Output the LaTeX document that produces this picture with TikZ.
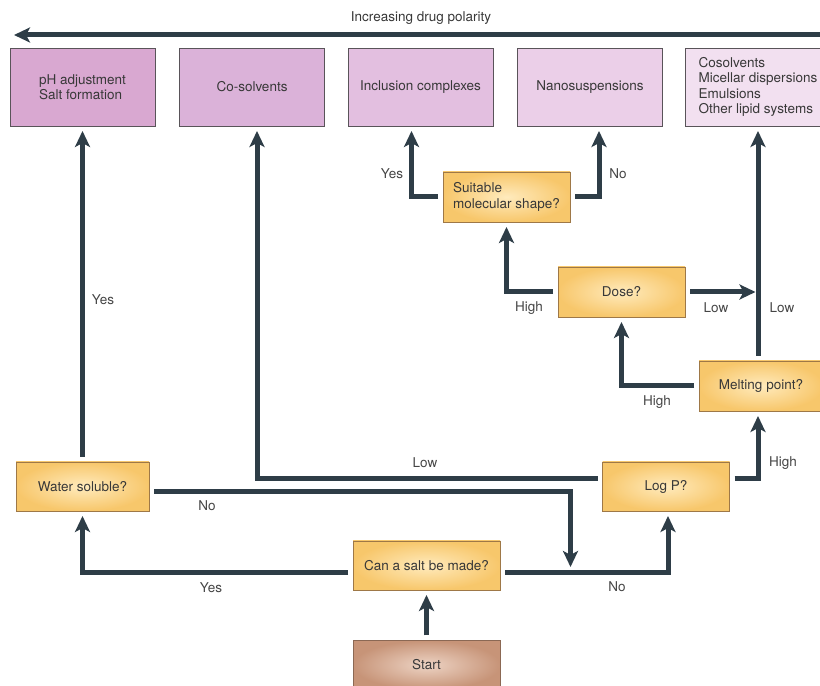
\documentclass[tikz,border=0pt]{standalone}
\usepackage{fontspec}
\setmainfont{TeX Gyre Heros}
\usetikzlibrary{arrows.meta}

\begin{document}
\begin{tikzpicture}[x=1pt,y=1pt,
  every node/.style={font=\fontsize{13.5}{15.5}\selectfont,text=textColor},
  route/.style={draw=lineColor,line width=5pt,
    -{Stealth[length=16pt,width=15pt,inset=4pt]}},
  plain/.style={draw=lineColor,line width=5pt},
  choice/.style={draw=choiceEdge,line width=0.8pt,shading=radial,
    inner color=choiceInner,outer color=choiceOuter,
    minimum width=127pt,minimum height=50pt,outer sep=5pt,align=left,inner sep=2pt},
  method/.style={draw=methodEdge,line width=0.8pt,
    minimum width=145pt,minimum height=78pt,outer sep=5pt,align=left,inner sep=2pt},
  answer/.style={text=labelColor,inner sep=0pt}]
\definecolor[named]{textColor}{rgb}{0.22,0.22,0.22}
\definecolor[named]{labelColor}{rgb}{0.27,0.27,0.27}
\definecolor[named]{lineColor}{rgb}{0.18,0.24,0.28}
\definecolor[named]{choiceEdge}{rgb}{0.62,0.47,0.28}
\definecolor[named]{choiceInner}{rgb}{1.00,0.92,0.74}
\definecolor[named]{choiceOuter}{rgb}{0.97,0.78,0.42}
\definecolor[named]{methodEdge}{rgb}{0.35,0.33,0.35}
\definecolor[named]{startInner}{rgb}{0.93,0.83,0.77}
\definecolor[named]{startOuter}{rgb}{0.78,0.58,0.47}
\definecolor[named]{pinkA}{rgb}{0.85,0.66,0.82}
\definecolor[named]{pinkB}{rgb}{0.86,0.70,0.85}
\definecolor[named]{pinkC}{rgb}{0.89,0.75,0.88}
\definecolor[named]{pinkD}{rgb}{0.92,0.81,0.91}
\definecolor[named]{pinkE}{rgb}{0.95,0.88,0.94}
\path[use as bounding box,fill=white] (0,0) rectangle (820,686);

% polarity arrow
\coordinate (polRight) at (822,651);
\coordinate (polLeft) at (14,651);
\draw[route] (polRight) -- (polLeft);
\node[inner sep=0pt] (polText) at (421,668) {Increasing drug polarity};

% formulation approaches
\node[method,fill=pinkA] (ph) at (82.5,599) {pH adjustment\\Salt formation};
\node[method,fill=pinkB] (cosolv) at (252,599) {Co-solvents};
\node[method,fill=pinkC] (inclusion) at (420.5,599) {Inclusion complexes};
\node[method,fill=pinkD] (nano) at (590,599) {Nanosuspensions};
\node[method,fill=pinkE] (lipid) at (758,599) {Cosolvents\\Micellar dispersions\\Emulsions\\Other lipid systems};

% decisions
\node[choice] (shape) at (506.5,489) {Suitable\\molecular shape?};
\node[choice] (dose) at (621.5,394) {Dose?};
\node[choice,minimum width=124pt] (melt) at (761,300) {Melting point?};
\node[choice,minimum width=133pt,minimum height=49pt] (water) at (82.5,199.5) {Water soluble?};
\node[choice,minimum height=49pt] (logp) at (666,199.5) {Log P?};
\node[choice,minimum width=147pt,minimum height=49pt] (salt) at (426.5,120.5) {Can a salt be made?};
\node[choice,minimum width=147pt,minimum height=49pt,inner color=startInner,outer color=startOuter,draw=startOuter!70!black] (start) at (426.5,21) {Start};

% connectors
\coordinate (noJoin) at (570.5,119);
\draw[route] (start) -- (salt);
\draw[route] ([yshift=-7.5pt]salt.west) -| (water.south);
\draw[route] ([yshift=-7.5pt]salt.east) -| ([xshift=2pt]logp.south);
\draw[route] ([yshift=-5pt]water.east) -| (noJoin);
\draw[route] (water) -- (ph);
\draw[route] ([yshift=7.5pt]logp.west) -| ([xshift=5pt]cosolv.south);
\draw[route] ([yshift=7.5pt]logp.east) -| (melt.south -| lipid.south);
\draw[route] (melt.west) -| (dose.south);
\draw[route] (melt.north -| lipid.south) -- (lipid.south);
\draw[route,shorten >=2.5pt] (dose.east) -- (dose.east -| lipid.south);
\draw[route] (dose.west) -| (shape.south);
\draw[route] (shape.west) -| ([xshift=-9pt]inclusion.south);
\draw[route] (shape.east) -| ([xshift=9pt]nano.south);

% answers
\node[answer] (phYes) at (103,386) {Yes};
\node[answer] (waterNo) at (207,180) {No};
\node[answer] (saltYes) at (211,98) {Yes};
\node[answer] (saltNo) at (617,99) {No};
\node[answer] (logpLow) at (425,223) {Low};
\node[answer] (logpHigh) at (783,223) {High};
\node[answer] (meltHigh) at (657,284) {High};
\node[answer] (doseLow) at (716,378) {Low};
\node[answer] (meltLow) at (782,378) {Low};
\node[answer] (doseHigh) at (529,378) {High};
\node[answer] (shapeYes) at (392,512) {Yes};
\node[answer] (shapeNo) at (618,512) {No};
\end{tikzpicture}
\end{document}
